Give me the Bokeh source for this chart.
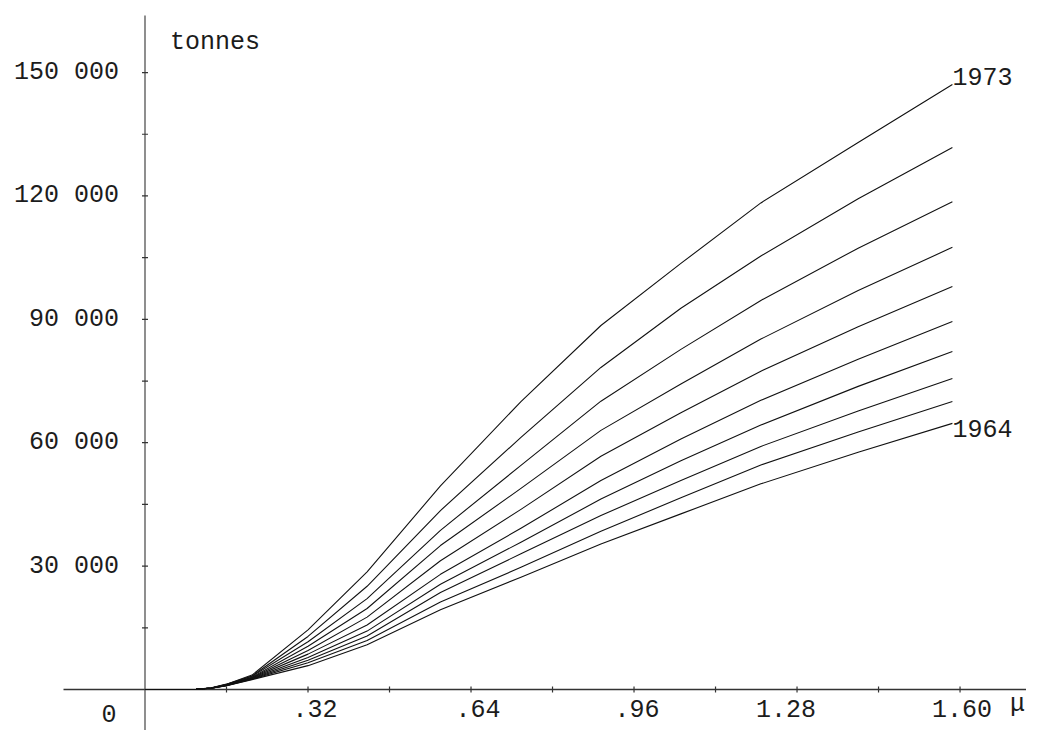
import math
from bokeh.plotting import figure
from bokeh.models import Range1d
from bokeh.core.properties import value
from bokeh.embed import file_html
from bokeh.resources import INLINE

# ---- data ----
mu = [0.0, 0.10, 0.13, 0.16, 0.21, 0.32, 0.436, 0.58, 0.738, 0.895, 1.052, 1.209, 1.40, 1.585]

y1973 = [0, 50, 400, 1300, 3500, 14500, 28600, 49500, 70000, 88500, 103600, 118300, 133000, 147100]
y1972 = [0, 50, 380, 1250, 3300, 12900, 25100, 43500, 61300, 78300, 92700, 105400, 119300, 131800]
y1971 = [0, 50, 370, 1200, 3200, 11600, 22100, 38700, 54500, 70100, 82700, 94600, 107300, 118600]
y1970 = [0, 50, 360, 1150, 3000, 10500, 19700, 35000, 48900, 63000, 74300, 85200, 97000, 107500]
y1969 = [0, 50, 350, 1100, 2900, 9500, 17600, 31300, 43800, 56700, 67300, 77400, 88200, 98000]
y1968 = [0, 50, 340, 1050, 2800, 8600, 15700, 28000, 39200, 50800, 60900, 70300, 80300, 89500]
y1967 = [0, 50, 330, 1000, 2700, 7800, 14200, 25600, 35800, 46300, 55600, 64300, 73700, 82200]
y1966 = [0, 50, 320, 970, 2600, 7100, 13000, 23600, 33000, 42300, 50800, 59100, 67700, 75600]
y1965 = [0, 50, 310, 940, 2500, 6500, 11900, 21300, 29700, 38500, 46600, 54600, 62600, 70000]
y1964 = [0, 50, 300, 900, 2400, 5800, 10900, 19400, 27300, 35400, 42700, 50000, 57700, 64700]

series = [y1964, y1965, y1966, y1967, y1968, y1969, y1970, y1971, y1972, y1973]
end_labels = ["1973", "1964"]
end_values = [y1973[-1], y1964[-1]]

x_ticks = [0.16, 0.32, 0.48, 0.64, 0.80, 0.96, 1.12, 1.28, 1.44, 1.60]
x_label_values = [0.32, 0.64, 0.96, 1.28, 1.60]
x_label_texts = [".32", ".64", ".96", "1.28", "1.60"]
y_ticks = [15000, 30000, 45000, 60000, 75000, 90000, 105000, 120000, 135000, 150000]
y_label_values = [30000, 60000, 90000, 120000, 150000]
y_label_texts = ["30 000", "60 000", "90 000", "120 000", "150 000"]

# ---- figure ----
W, H = 1026, 730
PXX = 509.4          # px per unit of mu
PXY = 0.004113       # px per tonne
x0 = -144.5 / PXX
y0 = -(H - 689) / PXY
p = figure(width=W, height=H, output_backend="svg", toolbar_location=None,
           x_range=Range1d(x0, x0 + W / PXX), y_range=Range1d(y0, y0 + H / PXY),
           min_border=0)
p.axis.visible = False
p.grid.visible = False
p.outline_line_color = None
p.background_fill_color = "white"

FONT = value("Liberation Mono")
INK = "#1c1c1c"
px = lambda n: n / PXX
py = lambda n: n / PXY

# axes lines (crossing, as in the original)
p.segment(x0=[-px(81.5)], y0=[0], x1=[x0 + W / PXX], y1=[0], line_color="#333333", line_width=1.3)
p.segment(x0=[0], y0=[y0], x1=[0], y1=[py(674)], line_color="#444444", line_width=1.2)

# tick marks
p.scatter(x=[0] * len(y_ticks), y=y_ticks, marker="dash", size=6, line_color="#333333", line_width=1.2)
p.scatter(x=x_ticks, y=[0] * len(x_ticks), marker="dash", angle=math.pi / 2, size=6,
          line_color="#333333", line_width=1.2)

# curves
for s in series:
    p.line(mu, s, line_color="#111111", line_width=1.1, line_join="round")

# tick labels
p.text(x=[-px(26)] * len(y_label_values), y=y_label_values, text=y_label_texts,
       text_font=FONT, text_font_size="25px", text_color=INK, text_align="right", text_baseline="middle")
p.text(x=[-px(36)], y=[-py(24)], text=["0"], text_font=FONT, text_font_size="25px",
       text_color=INK, text_align="center", text_baseline="middle")
p.text(x=x_label_values, y=[-py(19)] * len(x_label_values), text=x_label_texts,
       x_offset=[7, 7, 3, -11, 2],
       text_font=FONT, text_font_size="25px", text_color=INK, text_align="center", text_baseline="middle")
p.text(x=[px(1017 - 144.5)], y=[-py(15)], text=["\u03bc"], text_font=FONT, text_font_size="25px",
       text_color=INK, text_align="center", text_baseline="middle")

# unit label
p.text(x=[px(25)], y=[py(647)], text=["tonnes"], text_font=FONT, text_font_size="25px",
       text_color=INK, text_align="left", text_baseline="middle")

# curve end labels
p.text(x=[mu[-1]] * 2, y=end_values, text=end_labels, y_offset=[-8, 5],
       text_font=FONT, text_font_size="25px", text_color=INK, text_align="left", text_baseline="middle")

open("out.html", "w").write(file_html(p, INLINE))
